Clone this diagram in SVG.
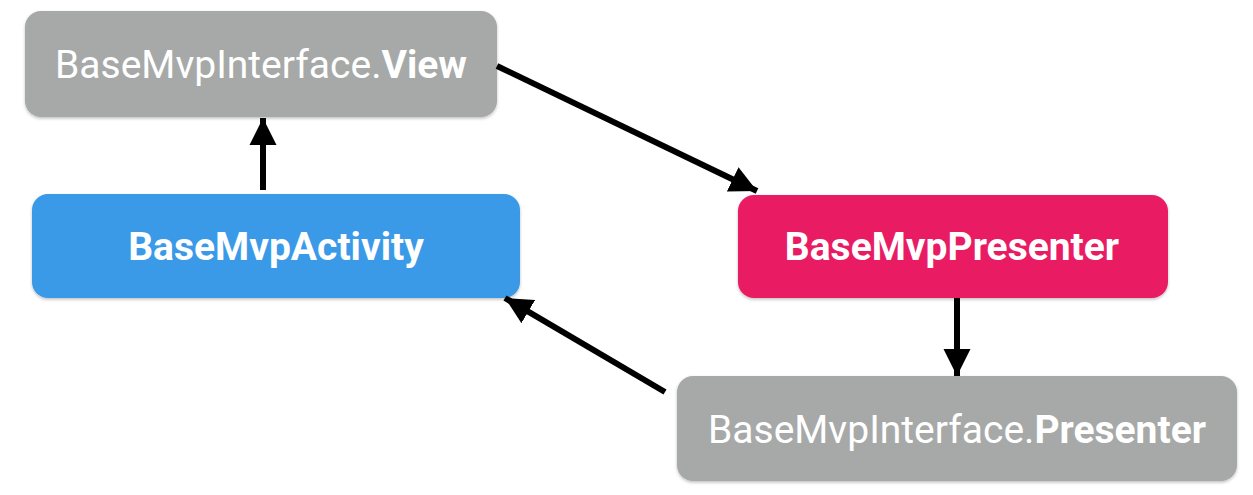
<svg xmlns="http://www.w3.org/2000/svg" width="1253" height="495" viewBox="0 0 1253 495">
<style>
.t{font-family:Roboto,"Liberation Sans",sans-serif;font-size:39px;fill:#ffffff;text-anchor:middle}
.b{font-weight:bold}
.gray{fill:#a6a9a8}
.blue{fill:#3a9ae8}
.pink{fill:#e91e63}
.c{stroke:#000;stroke-width:6;fill:none}
</style>
<defs>
<filter id="sh" x="-5%" y="-10%" width="110%" height="125%">
<feDropShadow dx="0" dy="1.5" stdDeviation="1.5" flood-color="#000" flood-opacity="0.25"/>
</filter>
<marker id="ah" markerUnits="userSpaceOnUse" markerWidth="30" markerHeight="30" viewBox="0 0 30 30" refX="27" refY="15" orient="auto">
<path d="M0,1.5 L27,15 L0,28.5 Z" fill="#000"/>
</marker>
</defs>
<g id="node-view">
<rect class="gray" x="25" y="11" width="472" height="106" rx="16" filter="url(#sh)"/>
<text class="t" x="261" y="78">BaseMvpInterface.<tspan class="b">View</tspan></text>
</g>
<g id="node-activity">
<rect class="blue" x="32" y="194" width="488" height="104" rx="16" filter="url(#sh)"/>
<text class="t b" x="276" y="260">BaseMvpActivity</text>
</g>
<g id="node-presenter">
<rect class="pink" x="738" y="195" width="430" height="103" rx="16" filter="url(#sh)"/>
<text class="t b" x="952" y="260">BaseMvpPresenter</text>
</g>
<g id="node-ipresenter">
<rect class="gray" x="677" y="376" width="560" height="105" rx="16" filter="url(#sh)"/>
<text class="t" x="957" y="443">BaseMvpInterface.<tspan class="b">Presenter</tspan></text>
</g>
<g id="connectors">
<line class="c" x1="263" y1="190" x2="263" y2="118" marker-end="url(#ah)"/>
<line class="c" x1="497" y1="66" x2="757" y2="191" marker-end="url(#ah)"/>
<line class="c" x1="957" y1="298" x2="957" y2="376" marker-end="url(#ah)"/>
<line class="c" x1="665" y1="392" x2="505" y2="298" marker-end="url(#ah)"/>
</g>
</svg>
